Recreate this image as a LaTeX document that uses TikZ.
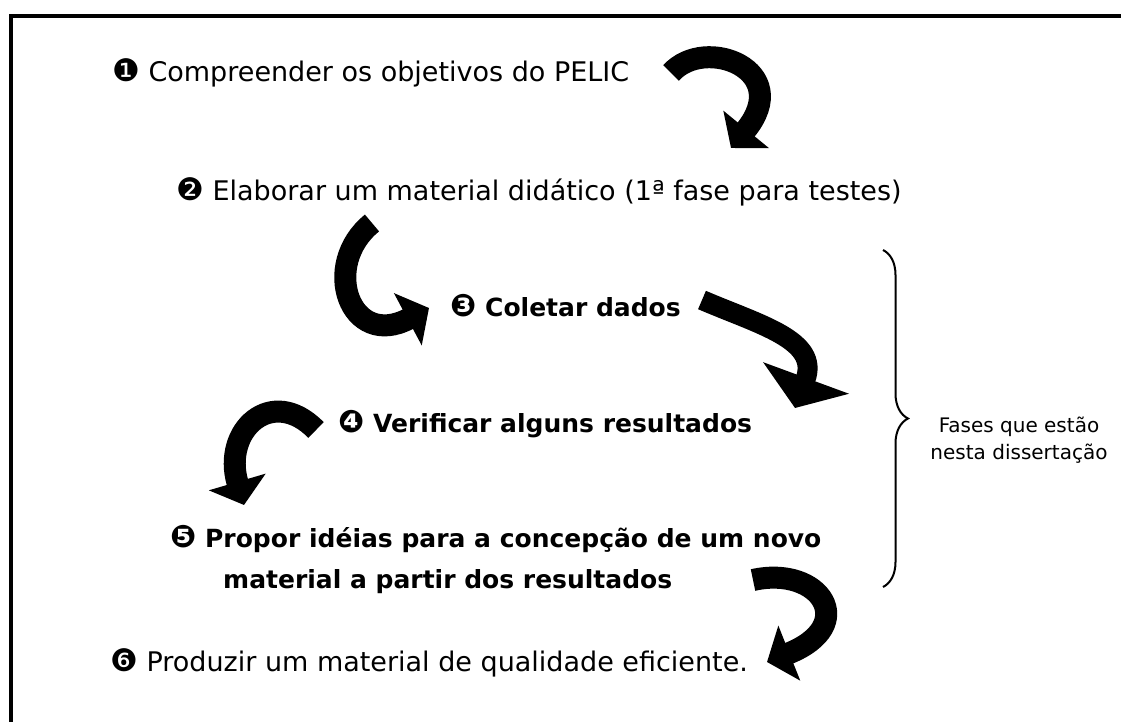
\documentclass[tikz,border=0pt]{standalone}
\usepackage{fontspec}
\setmainfont{DejaVu Sans}
\usetikzlibrary{arrows.meta,decorations.pathreplacing}

\newcommand{\passofont}{\fontsize{27}{41}\selectfont}
\newcommand{\passobfont}{\fontsize{25}{41}\selectfont\bfseries}
\newcommand{\notafont}{\fontsize{20}{27}\selectfont}
\newcommand{\marca}[1]{{\fontsize{31}{31}\selectfont #1}}

\begin{document}
\begin{tikzpicture}[x=1pt, y=-1pt,
  passo/.style={anchor=west, inner sep=0pt, font=\passofont},
  passob/.style={passo, font=\passobfont},
  curva/.style={line width=22pt, -{Triangle[length=24pt,width=58pt]}}]
\useasboundingbox (0,0) rectangle (1121,722);
\draw[line width=4.5pt] (11,722) -- (11,16) -- (1121,16);

% etapas
\node[passo] (p1) at (112,73) {\marca{❶} Compreender os objetivos do PELIC};
\node[passo] (p2) at (176,192) {\marca{❷} Elaborar um material didático (1ª fase para testes)};
\node[passob] (p3) at (450,306) {\marca{❸} Coletar dados};
\node[passob] (p4) at (338,424) {\marca{❹} Verificar alguns resultados};
\node[passob, align=left] (p5) at (170,560) {\marca{❺} Propor idéias para a concepção de um novo\\\hspace*{53pt}material a partir dos resultados};
\node[passo] (p6) at (110,663) {\marca{❻} Produzir um material de qualidade eficiente.};

% setas curvas
\coordinate (ini1) at (671,73);  \coordinate (fim1) at (731,148);
\coordinate (ini2) at (372,223); \coordinate (fim2) at (429,308);
\coordinate (ini3) at (702,300); \coordinate (fim3) at (795,408);
\coordinate (ini4) at (316,430); \coordinate (fim4) at (244,505);
\coordinate (ini5) at (753,580); \coordinate (fim5) at (767,662);

\draw[curva] (ini1) .. controls (705,35) and (795,70) .. (fim1);
\draw[curva] (ini2) .. controls (320,265) and (350,350) .. (fim2);
\draw[curva, line width=20pt, -{Triangle[length=32pt,width=90pt]}] (ini3) .. controls (760,325) and (820,340) .. (fim3);
\draw[curva] (ini4) .. controls (272,385) and (222,430) .. (fim4);
\draw[curva] (ini5) .. controls (820,565) and (860,625) .. (fim5);

% chave
\coordinate (chA) at (883,250);
\coordinate (chB) at (883,587);
\draw[line width=2pt, decorate, decoration={brace, amplitude=25pt}] (chA) -- (chB);
\node[font=\notafont, align=center] (fases) at (1019,440) {Fases que estão\\nesta dissertação};

\end{tikzpicture}
\end{document}
